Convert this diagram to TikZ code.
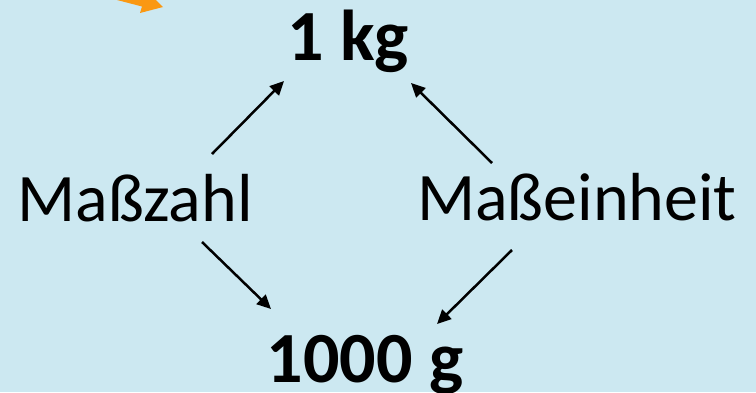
\documentclass[tikz,border=0pt]{standalone}
\usepackage{fontspec}
\setmainfont{Carlito}
\usetikzlibrary{arrows.meta}
\definecolor{bgblue}{RGB}{204,232,241}
\definecolor{orangearrow}{RGB}{250,152,18}
\tikzset{
  bold label/.style={anchor=base, inner sep=0pt, font=\fontsize{72}{80}\selectfont\bfseries},
  word label/.style={anchor=base, inner sep=0pt, font=\fontsize{68}{76}\selectfont},
  link/.style={line width=2.5pt, -{Triangle[length=14pt,width=13pt]}}
}
\begin{document}
\begin{tikzpicture}[x=1pt,y=-1pt]
\useasboundingbox (0,0) rectangle (756,392);
\clip (0,0) rectangle (756,392);
\fill[bgblue] (0,0) rectangle (756,392);
% orange block arrow, cut by the top edge
\fill[orangearrow] (119,-10) -- (117,0) -- (142,6.5) -- (140,13) -- (163,7) -- (146,-10) -- cycle;
% labels
\node[bold label] (kg) at (348,60) {1 kg};
\node[bold label] (g) at (365,382) {1000 g};
\node[word label] (mz) at (135,221) {Maßzahl};
\node[word label] (me) at (577,220) {Maßeinheit};
% connector ends
\coordinate (mzup) at (212,154);
\coordinate (kgl) at (284,81);
\coordinate (meup) at (492,163);
\coordinate (kgr) at (411,83);
\coordinate (mzdn) at (202,242);
\coordinate (gl) at (271,309);
\coordinate (medn) at (512,250);
\coordinate (gr) at (437,324);
\draw[link] (mzup) -- (kgl);
\draw[link] (meup) -- (kgr);
\draw[link] (mzdn) -- (gl);
\draw[link] (medn) -- (gr);
\end{tikzpicture}
\end{document}
